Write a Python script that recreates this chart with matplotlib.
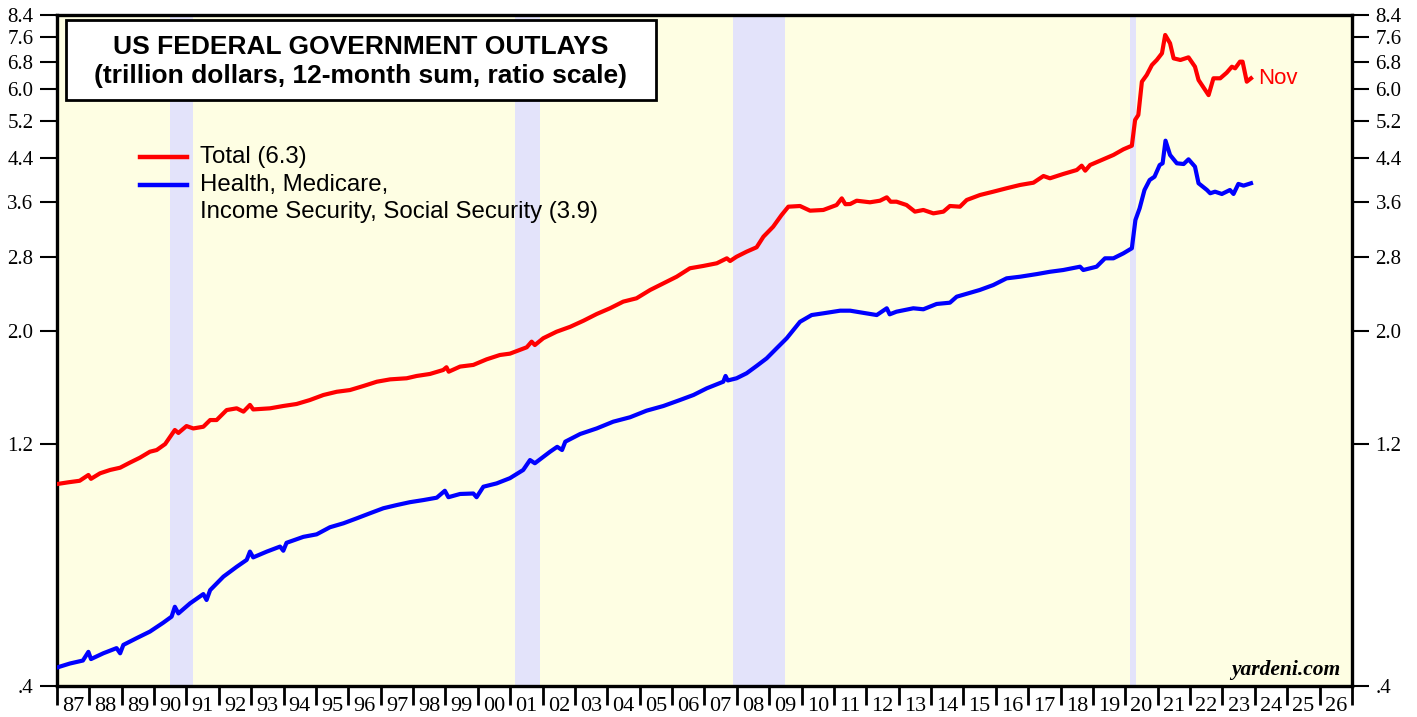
"""
US federal government outlays, 12-month sum, ratio scale
total vs health/medicare/income security/social security
"""
import matplotlib
matplotlib.use("Agg")
import matplotlib.pyplot as plt
from matplotlib.patches import Rectangle
from matplotlib.lines import Line2D
from matplotlib.ticker import FixedLocator, NullLocator

plt.rcParams["font.family"] = ["Liberation Serif", "DejaVu Serif"]

# 1. data (trillion dollars, decimal years)
total_years = [1987.0, 1987.35, 1987.7, 1987.97, 1988.05, 1988.33, 1988.64, 1988.95,
               1989.25, 1989.56, 1989.87, 1990.08, 1990.34, 1990.64, 1990.75, 1991.0,
               1991.21, 1991.52, 1991.73, 1991.93, 1992.24, 1992.55, 1992.76, 1992.96,
               1993.06, 1993.58, 1993.99, 1994.4, 1994.81, 1995.23, 1995.64, 1996.05,
               1996.46, 1996.88, 1997.29, 1997.8, 1998.11, 1998.52, 1998.93, 1999.03,
               1999.1, 1999.45, 1999.86, 2000.27, 2000.68, 2000.99, 2001.51, 2001.66,
               2001.76, 2002.02, 2002.43, 2002.85, 2003.26, 2003.67, 2004.08, 2004.49,
               2004.9, 2005.32, 2005.73, 2006.14, 2006.55, 2006.96, 2007.38, 2007.69,
               2007.79, 2007.99, 2008.3, 2008.61, 2008.82, 2009.12, 2009.38, 2009.59,
               2009.95, 2010.26, 2010.67, 2011.08, 2011.24, 2011.35, 2011.5, 2011.7,
               2012.11, 2012.42, 2012.63, 2012.75, 2012.93, 2013.24, 2013.5, 2013.76,
               2014.07, 2014.38, 2014.58, 2014.89, 2015.1, 2015.51, 2015.92, 2016.33,
               2016.75, 2017.16, 2017.47, 2017.67, 2018.08, 2018.5, 2018.65, 2018.76,
               2018.91, 2019.32, 2019.63, 2019.94, 2020.2, 2020.3, 2020.4, 2020.51,
               2020.66, 2020.82, 2020.97, 2021.13, 2021.23, 2021.38, 2021.49, 2021.7,
               2021.95, 2022.15, 2022.26, 2022.57, 2022.72, 2022.93, 2023.13, 2023.29,
               2023.39, 2023.54, 2023.62, 2023.75, 2023.88]
total_vals = [1.000, 1.008, 1.015, 1.042, 1.024, 1.050, 1.066, 1.077,
              1.102, 1.127, 1.158, 1.167, 1.199, 1.278, 1.261, 1.301,
              1.287, 1.297, 1.337, 1.337, 1.399, 1.410, 1.389, 1.432,
              1.403, 1.410, 1.425, 1.438, 1.464, 1.498, 1.520, 1.532,
              1.560, 1.591, 1.608, 1.616, 1.633, 1.648, 1.678, 1.699,
              1.665, 1.704, 1.717, 1.761, 1.796, 1.807, 1.860, 1.908,
              1.879, 1.938, 1.996, 2.041, 2.098, 2.163, 2.220, 2.288,
              2.323, 2.412, 2.486, 2.562, 2.662, 2.690, 2.723, 2.785,
              2.751, 2.805, 2.870, 2.928, 3.072, 3.214, 3.389, 3.520,
              3.531, 3.457, 3.468, 3.547, 3.656, 3.560, 3.563, 3.617,
              3.591, 3.617, 3.673, 3.600, 3.601, 3.547, 3.442, 3.468,
              3.415, 3.442, 3.531, 3.520, 3.629, 3.712, 3.768, 3.827,
              3.885, 3.925, 4.046, 4.004, 4.083, 4.158, 4.240, 4.145,
              4.253, 4.364, 4.451, 4.567, 4.642, 5.217, 5.337, 6.207,
              6.399, 6.695, 6.849, 7.060, 7.672, 7.388, 6.900, 6.849,
              6.932, 6.643, 6.255, 5.840, 6.303, 6.303, 6.466, 6.643,
              6.595, 6.797, 6.797, 6.207, 6.303]

health_years = [1987.0, 1987.4, 1987.8, 1987.97, 1988.05, 1988.43, 1988.84, 1988.95,
                1989.05, 1989.46, 1989.87, 1990.28, 1990.54, 1990.64, 1990.75, 1991.11,
                1991.52, 1991.62, 1991.73, 1992.14, 1992.55, 1992.86, 1992.96, 1993.06,
                1993.48, 1993.89, 1993.99, 1994.09, 1994.61, 1995.02, 1995.43, 1995.85,
                1996.26, 1996.67, 1997.08, 1997.49, 1997.9, 1998.32, 1998.73, 1998.98,
                1999.09, 1999.45, 1999.86, 1999.96, 2000.17, 2000.58, 2000.99, 2001.4,
                2001.61, 2001.76, 2002.23, 2002.45, 2002.6, 2002.7, 2003.16, 2003.67,
                2004.18, 2004.7, 2005.21, 2005.73, 2006.24, 2006.66, 2007.07, 2007.58,
                2007.65, 2007.72, 2007.99, 2008.3, 2008.61, 2008.92, 2009.23, 2009.54,
                2009.95, 2010.31, 2010.67, 2011.19, 2011.5, 2011.8, 2012.32, 2012.63,
                2012.72, 2012.93, 2013.45, 2013.76, 2014.17, 2014.58, 2014.79, 2015.5,
                2015.92, 2016.33, 2016.75, 2017.27, 2017.67, 2018.08, 2018.6, 2018.7,
                2019.11, 2019.37, 2019.63, 2019.94, 2020.2, 2020.31, 2020.44, 2020.59,
                2020.75, 2020.9, 2021.06, 2021.15, 2021.24, 2021.38, 2021.59, 2021.8,
                2021.95, 2022.15, 2022.26, 2022.52, 2022.62, 2022.77, 2022.98, 2023.23,
                2023.34, 2023.49, 2023.65, 2023.88]
health_vals = [0.435, 0.443, 0.449, 0.467, 0.452, 0.464, 0.475, 0.464,
               0.482, 0.497, 0.512, 0.533, 0.548, 0.573, 0.556, 0.582,
               0.607, 0.591, 0.618, 0.657, 0.687, 0.709, 0.736, 0.717,
               0.736, 0.753, 0.739, 0.766, 0.787, 0.796, 0.822, 0.837,
               0.856, 0.876, 0.896, 0.909, 0.921, 0.930, 0.940, 0.970,
               0.942, 0.956, 0.958, 0.942, 0.988, 1.003, 1.027, 1.066,
               1.115, 1.099, 1.158, 1.184, 1.167, 1.212, 1.255, 1.287,
               1.327, 1.354, 1.395, 1.425, 1.464, 1.498, 1.544, 1.591,
               1.633, 1.600, 1.616, 1.653, 1.709, 1.769, 1.852, 1.938,
               2.088, 2.153, 2.170, 2.196, 2.196, 2.180, 2.153, 2.220,
               2.160, 2.186, 2.220, 2.210, 2.264, 2.277, 2.340, 2.412,
               2.467, 2.543, 2.562, 2.593, 2.620, 2.641, 2.681, 2.641,
               2.681, 2.785, 2.785, 2.849, 2.915, 3.313, 3.494, 3.797,
               3.973, 4.033, 4.253, 4.286, 4.749, 4.451, 4.286, 4.272,
               4.364, 4.221, 3.915, 3.797, 3.741, 3.768, 3.729, 3.797,
               3.729, 3.903, 3.873, 3.915]

assert len(total_years) == len(total_vals)
assert len(health_years) == len(health_vals)

recessions = [(1990.5, 1991.2), (2001.15, 2001.92), (2007.88, 2009.5), (2020.15, 2020.33)]
y_ticks = [0.4, 1.2, 2.0, 2.8, 3.6, 4.4, 5.2, 6.0, 6.8, 7.6, 8.4]
y_labels = [".4", "1.2", "2.0", "2.8", "3.6", "4.4", "5.2", "6.0", "6.8", "7.6", "8.4"]
years = list(range(1987, 2027))
year_labels = [f"{y % 100:02d}" for y in years]

RED = "#FF0000"
BLUE = "#0000FF"
SANS = ["Liberation Sans", "DejaVu Sans"]

# 2. figure
fig = plt.figure(figsize=(14.17, 7.17), dpi=100)
ax = fig.add_axes([57 / 1417, 31 / 717, 1295 / 1417, 671 / 717])
ax.set_facecolor("#FEFEE3")

for a, b in recessions:
    ax.axvspan(a, b, color="#E3E3FA", lw=0, zorder=0.5)

ax.plot(total_years, total_vals, color=RED, lw=3.0, solid_joinstyle="round", zorder=3)
ax.plot(health_years, health_vals, color=BLUE, lw=3.0, solid_joinstyle="round", zorder=3)

ax.set_yscale("log")
ax.set_ylim(0.4, 8.4)
ax.set_xlim(1987, 2027)

ax.yaxis.set_major_locator(FixedLocator(y_ticks))
ax.yaxis.set_minor_locator(NullLocator())
ax.set_yticklabels(y_labels)
ax.tick_params(axis="y", which="major", direction="out", length=12, width=1.5,
               left=True, right=True, labelleft=True, labelright=True,
               labelsize=15, pad=5)

# year ticks on the boundaries, labels centred in the year
ax.xaxis.set_major_locator(FixedLocator(list(range(1987, 2028))))
ax.xaxis.set_minor_locator(FixedLocator([y + 0.5 for y in years]))
ax.set_xticklabels([], minor=False)
ax.set_xticklabels(year_labels, minor=True)
ax.tick_params(axis="x", which="major", direction="out", length=14, width=2)
ax.tick_params(axis="x", which="minor", length=0, labelsize=16, pad=8)

for s in ax.spines.values():
    s.set_linewidth(2.4)
    s.set_color("black")

# 3. title box
ax.add_patch(Rectangle((0.007, 0.873), 0.4555, 0.1195, transform=ax.transAxes,
                       facecolor="white", edgecolor="black", lw=2, zorder=5))
ax.text(0.2347, 0.9523, "US FEDERAL GOVERNMENT OUTLAYS", transform=ax.transAxes,
        ha="center", va="center", fontsize=19, fontweight="bold", family=SANS, zorder=6)
ax.text(0.2347, 0.9091, "(trillion dollars, 12-month sum, ratio scale)", transform=ax.transAxes,
        ha="center", va="center", fontsize=19, fontweight="bold", family=SANS, zorder=6)

# 4. legend drawn by hand
ax.add_line(Line2D([0.0641, 0.1004], [0.7884, 0.7884], transform=ax.transAxes,
                   color=RED, lw=3.2, zorder=6))
ax.add_line(Line2D([0.0641, 0.1004], [0.7466, 0.7466], transform=ax.transAxes,
                   color=BLUE, lw=3.2, zorder=6))
ax.text(0.1104, 0.7884, "Total (6.3)", transform=ax.transAxes, ha="left", va="center",
        fontsize=17.3, family=SANS)
ax.text(0.1104, 0.7466, "Health, Medicare,", transform=ax.transAxes, ha="left", va="center",
        fontsize=17.3, family=SANS)
ax.text(0.1104, 0.7064, "Income Security, Social Security (3.9)", transform=ax.transAxes,
        ha="left", va="center", fontsize=17.3, family=SANS)

ax.text(2024.1, total_vals[-1], "Nov", color=RED, ha="left", va="center",
        fontsize=16, family=SANS)
ax.text(0.9907, 0.017, "yardeni.com", transform=ax.transAxes, ha="right", va="baseline",
        fontsize=15.5, fontweight="bold", fontstyle="italic")

fig.savefig("out.png", dpi=100, facecolor="white")
